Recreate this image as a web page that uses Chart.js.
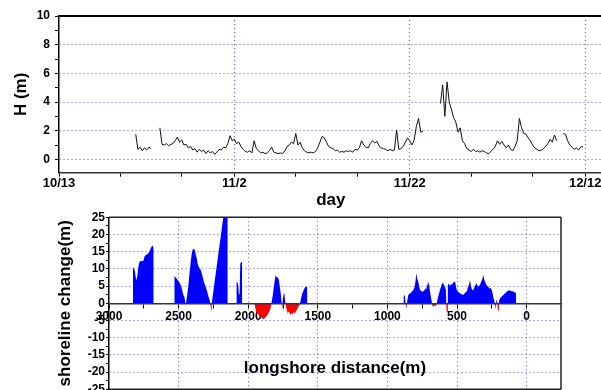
<!DOCTYPE html>
<html><head><meta charset="utf-8">
<script src="https://cdn.jsdelivr.net/npm/chart.js@4.4.1/dist/chart.umd.min.js"></script>
<style>
html,body{margin:0;padding:0;overflow:hidden;background:#fff;width:601px;height:390px;}
#top{position:absolute;left:0;top:0;}
#bot{position:absolute;left:0;top:200px;}
</style></head><body>
<canvas id="top" width="640" height="215"></canvas>
<canvas id="bot" width="601" height="206"></canvas>
<script>
// ---------- Wave height record (top panel), day 0 = 10/13 ----------
const waveDaysA = [8.75, 9, 9.25, 9.5, 9.75, 10, 10.25, 10.5];
const waveHA    = [1.75, 0.7, 0.85, 0.6, 0.8, 0.65, 0.85, 0.75];
const waveDaysB = [
  11.5, 11.75, 12, 12.25, 12.5, 12.75, 13, 13.25,
  13.5, 13.75, 14, 14.25, 14.5, 14.75, 15, 15.25,
  15.5, 15.75, 16, 16.25, 16.5, 16.75, 17, 17.25,
  17.5, 17.75, 18, 18.25, 18.5, 18.75, 19, 19.25,
  19.5, 19.75, 20, 20.25, 20.5, 20.75, 21, 21.25,
  21.5, 21.75, 22, 22.25, 22.5, 22.75, 23, 23.25,
  23.5, 23.75, 24, 24.25, 24.5, 24.75, 25, 25.25,
  25.5, 25.75, 26, 26.25, 26.5, 26.75, 27, 27.25,
  27.5, 27.75, 28, 28.25, 28.5, 28.75, 29, 29.25,
  29.5, 29.75, 30, 30.25, 30.5, 30.75, 31, 31.25,
  31.5, 31.75, 32, 32.25, 32.5, 32.75, 33, 33.25,
  33.5, 33.75, 34, 34.25, 34.5, 34.75, 35, 35.25,
  35.5, 35.75, 36, 36.25, 36.5, 36.75, 37, 37.25,
  37.5, 37.75, 38, 38.25, 38.5, 38.75, 39, 39.25,
  39.5, 39.75, 40, 40.25, 40.5, 40.75, 41, 41.25,
  41.5];
const waveHB = [
  2.2, 1.05, 1.0, 1.1, 0.95, 1.05, 1.1, 1.3,
  1.55, 1.2, 1.35, 1.0, 1.05, 0.8, 0.9, 0.65,
  0.75, 0.5, 0.7, 0.55, 0.65, 0.4, 0.6, 0.45,
  0.55, 0.35, 0.5, 0.7, 0.65, 0.85, 0.8, 1.1,
  1.65, 1.3, 1.4, 1.1, 1.2, 0.9, 0.7, 0.55,
  0.5, 0.6, 0.45, 1.3, 0.75, 0.6, 0.45, 0.5,
  0.4, 0.45, 0.6, 0.85, 0.5, 0.45, 0.4, 0.45,
  0.4, 0.6, 0.9, 1.0, 1.2, 1.1, 1.8, 1.0,
  1.2, 0.8, 0.6, 0.5, 0.45, 0.5, 0.45, 0.55,
  0.8, 1.2, 1.6, 1.5, 1.2, 0.9, 0.8, 0.75,
  0.6, 0.65, 0.5, 0.55, 0.5, 0.6, 0.55, 0.6,
  0.5, 0.7, 0.65, 0.8, 1.3, 1.0, 0.85, 0.8,
  1.1, 1.3, 1.15, 1.25, 0.95, 0.8, 0.75, 0.7,
  0.6, 0.7, 0.6, 0.65, 2.05, 0.7, 0.75, 0.9,
  1.2, 1.5, 1.3, 1.0, 1.35, 2.3, 2.85, 1.9,
  1.95];
const waveDaysC = [
  43.5, 43.75, 44, 44.25, 44.5, 44.75, 45, 45.25,
  45.5, 45.75, 46, 46.25, 46.5, 46.75, 47, 47.25,
  47.5, 47.75, 48, 48.25, 48.5, 48.75, 49, 49.25,
  49.5, 49.75, 50, 50.25, 50.5, 50.75, 51, 51.25,
  51.5, 51.75, 52, 52.25, 52.5, 52.75, 53, 53.25,
  53.5, 53.75, 54, 54.25, 54.5, 54.75, 55, 55.25,
  55.5, 55.75, 56, 56.25, 56.5, 56.75];
const waveHC = [
  3.9, 5.2, 3.0, 5.4, 4.0, 3.5, 2.9, 2.6,
  1.9, 2.2, 1.3, 1.1, 0.75, 0.65, 0.55, 0.7,
  0.55, 0.6, 0.5, 0.6, 0.55, 0.45, 0.4, 0.55,
  0.7, 0.9, 1.3, 1.05, 1.25, 1.0, 0.8, 1.0,
  0.7, 0.6, 0.9, 1.3, 2.85, 2.2, 1.8, 1.75,
  1.5, 1.3, 1.0, 0.8, 0.7, 0.6, 0.65, 0.75,
  0.9, 1.1, 1.4, 1.2, 1.7, 1.3];
const waveDaysD = [57.5, 57.75, 58, 58.25, 58.5, 58.75, 59, 59.25, 59.5, 59.75];
const waveHD    = [1.8, 1.75, 1.3, 1.0, 0.85, 0.7, 0.8, 0.65, 0.85, 0.9];

const dayTickValues = [0, 7, 14, 20, 27, 34, 40, 47, 54, 60];
const dayMajorValues = [0, 20, 40, 60];
const dayMajorLabels = ['10/13', '11/2', '11/22', '12/12'];
const hTickValues = [0, 1, 2, 3, 4, 5, 6, 7, 8, 9, 10];
const hMajorValues = [0, 2, 4, 6, 8, 10];

// ---------- Shoreline change (bottom panel) ----------
const shoreDistA = [2828, 2822, 2815, 2808, 2801, 2795, 2789, 2783, 2777, 2769, 2761, 2753, 2745, 2737, 2729, 2721, 2713, 2705, 2697, 2690, 2684, 2679];
const shoreChgA  = [10.6, 10.2, 9.5, 7.5, 6.8, 8.5, 10.5, 11.8, 12.3, 12.2, 12.3, 12.4, 13.6, 14.0, 14.2, 14.4, 14.8, 15.6, 16.2, 16.8, 16.5, 16.2];
const shoreDistB = [2531, 2522, 2514, 2502, 2490, 2478, 2470, 2466, 2459, 2454, 2450, 2446, 2438, 2430, 2422, 2413, 2406, 2399, 2390, 2382, 2376, 2370, 2363, 2356, 2346, 2340, 2334, 2326, 2318, 2308, 2298, 2290, 2282, 2274, 2270, 2267, 2262, 2258, 2248, 2239, 2227, 2215, 2206, 2198, 2190, 2184, 2178, 2172, 2165, 2155, 2147];
const shoreChgB  = [7.9, 7.6, 7.2, 6.5, 5.8, 4.4, 3.2, 2.4, 2.0, 0.8, -0.6, 0.3, 2.5, 5, 8.5, 12, 14.5, 15.6, 15.8, 15.4, 14, 13.2, 11.5, 10.6, 10, 9.6, 8.7, 7.5, 6.3, 5, 3.9, 2.7, 1.5, 0.5, -1, -2, -0.5, 1.2, 4.2, 7.0, 10.5, 14.2, 16.8, 19.3, 21.7, 23.5, 25.3, 27, 27, 27, 27];
const shoreDistC = [2085, 2078, 2072, 2067, 2062, 2057, 2050, 2043];
const shoreChgC  = [6.2, 6.1, 5.2, 2.7, 2.5, 11.5, 12.1, 11.8];
const shoreDistD = [1955, 1950, 1942, 1932, 1922, 1912, 1902, 1894, 1886, 1878, 1870, 1862, 1854, 1846, 1838, 1832, 1825, 1818, 1810, 1803, 1797, 1791, 1785, 1779, 1772, 1766, 1761, 1757, 1753, 1747, 1741, 1736, 1731, 1724, 1716, 1709, 1702, 1695, 1688, 1680, 1672, 1664, 1656, 1648, 1640, 1632, 1626, 1620, 1612, 1604, 1596, 1588, 1582, 1575];
const shoreChgD  = [-0.5, -1.2, -2.5, -3.0, -3.6, -3.8, -4.3, -4.6, -4.5, -4.2, -3.8, -3.4, -2.8, -2.2, -1.2, 0.3, 2, 4, 6.5, 8.3, 7.6, 7.6, 7.4, 6.6, 4.5, 2.8, 0.5, -1.3, 0.5, 2.4, 3.0, 1.2, -0.5, -1.8, -3.0, -2.4, -2.8, -3.5, -2.8, -3.2, -2.5, -3.0, -2.2, -1.8, -1.0, -0.5, 0.3, 1.5, 2.8, 3.6, 4.3, 4.9, 4.7, 4.8];
const shoreDistE = [885, 876, 868, 862, 858, 850, 842, 832, 822, 814, 806, 798, 792, 786, 778, 772, 766, 758, 750, 742, 736, 730, 722, 714, 706, 700, 694, 688, 682, 676, 668, 660, 652, 646, 640, 632, 622, 614, 606, 599, 592, 586, 580, 576, 573, 570, 566, 560, 552, 545, 538, 530, 522, 514, 508, 502, 495, 488, 478, 470, 462, 455, 447, 439, 430, 422, 414, 407, 400, 392, 383, 375, 367, 359, 351, 343, 335, 327, 319, 311, 305, 299, 292, 283, 275, 267, 259, 251, 244, 238, 232, 226, 222, 218, 213, 208, 204, 199, 191, 183, 175, 167, 159, 151, 143, 135, 127, 119, 111, 103, 95, 86, 80, 76];
const shoreChgE  = [2.0, 2.4, -0.5, -1.5, 0.5, 2.4, 2.8, 3.0, 3.5, 3.9, 4.5, 6.5, 8.7, 7.2, 6.3, 5.0, 3.9, 3.6, 3.4, 3.4, 3.8, 4.4, 4.0, 5.2, 6.3, 5.0, 3.4, 2.0, 0.5, -0.8, -1.0, -0.6, -0.8, -0.3, 1.2, 2.5, 3.9, 5.0, 5.8, 5.8, 5.2, 4.6, 4.0, -1.5, -3.0, -2.5, 5.0, 5.8, 5.0, 5.6, 5.3, 5.8, 6.3, 6.3, 5.0, 3.9, 3.5, 3.2, 2.9, 2.6, 2.6, 2.4, 2.8, 3.2, 3.4, 4.5, 5.5, 6.8, 5.0, 3.9, 3.9, 4.6, 5.4, 5.8, 4.8, 5.0, 5.3, 6.2, 7.0, 8.2, 7.0, 6.3, 5.6, 5.0, 4.8, 4.2, 4.5, 3.9, 2.8, 1.5, 0.8, -0.8, -1.9, 0.8, 1.2, -1.5, -2.2, 0.5, 1.5, 1.8, 2.1, 2.4, 2.8, 3.0, 3.4, 3.6, 3.8, 3.7, 3.6, 3.5, 3.4, 3.2, 3.0, 2.8];

const distTickValues = [3000, 2750, 2500, 2250, 2000, 1750, 1500, 1250, 1000, 750, 500, 250, 0];
const distMajorValues = [3000, 2500, 2000, 1500, 1000, 500, 0];
const chgTickValues = [-25, -22.5, -20, -17.5, -15, -12.5, -10, -7.5, -5, -2.5, 0, 2.5, 5, 7.5, 10, 12.5, 15, 17.5, 20, 22.5, 25];
const chgMajorValues = [-25, -20, -15, -10, -5, 0, 5, 10, 15, 20, 25];

// join record segments, leaving a gap (null) between them
function joinSegments(xsList, ysList) {
  const pts = [];
  xsList.forEach((xs, i) => {
    if (i > 0) {
      const prev = xsList[i - 1];
      pts.push({x: (prev[prev.length - 1] + xs[0]) / 2, y: null});
    }
    xs.forEach((x, j) => pts.push({x: x, y: ysList[i][j]}));
  });
  return pts;
}

Chart.defaults.font.family = "'Liberation Sans', Arial, sans-serif";
Chart.defaults.color = '#000';
const gridBlue = 'rgba(70,70,255,0.95)';
const boldTick = (size) => ({size: size, weight: 'bold', lineHeight: 1});
const titleFont = {size: 17, weight: 'bold', lineHeight: 1.2};

function framePlugin(sides, color, width) {
  return {
    id: 'frame',
    afterDatasetsDraw(chart) {
      const {ctx, chartArea: a} = chart;
      ctx.save();
      ctx.strokeStyle = color;
      ctx.lineWidth = width;
      ctx.beginPath();
      if (sides.includes('top')) { ctx.moveTo(a.left, a.top); ctx.lineTo(a.right, a.top); }
      if (sides.includes('right')) { ctx.moveTo(a.right, a.top); ctx.lineTo(a.right, a.bottom); }
      if (sides.includes('bottom')) { ctx.moveTo(a.left, a.bottom); ctx.lineTo(a.right, a.bottom); }
      ctx.stroke();
      ctx.restore();
    }
  };
}

// ---------- top chart ----------
new Chart(document.getElementById('top'), {
  type: 'line',
  data: {
    datasets: [{
      data: joinSegments([waveDaysA, waveDaysB, waveDaysC, waveDaysD], [waveHA, waveHB, waveHC, waveHD]),
      borderColor: '#111', borderWidth: 1, pointRadius: 0, tension: 0, fill: false, spanGaps: false
    }]
  },
  options: {
    responsive: false, animation: false, devicePixelRatio: 1,
    plugins: {legend: {display: false}, tooltip: {enabled: false}},
    layout: {padding: {left: 0, top: 16, right: 37.3, bottom: 0}},
    scales: {
      x: {
        type: 'linear', min: 0, max: 62,
        afterBuildTicks: s => { s.ticks = dayTickValues.map(v => ({value: v})); },
        afterFit: s => { s.height = 42.3; },
        ticks: {
          autoSkip: false, maxRotation: 0, padding: 0, font: boldTick(13),
          callback: v => { const i = dayMajorValues.indexOf(v); return i >= 0 ? dayMajorLabels[i] : ''; }
        },
        grid: {
          color: c => (c.tick && dayMajorValues.includes(c.tick.value) && c.tick.value > 0) ? gridBlue : 'rgba(0,0,0,0)',
          tickColor: '#000', tickLength: 4, lineWidth: 1
        },
        border: {color: '#333', width: 1.5, dash: [1, 3]},
        title: {display: true, text: 'day', font: titleFont, padding: {top: 0, bottom: 4.8}}
      },
      y: {
        min: -0.93, max: 10,
        afterBuildTicks: s => { s.ticks = hTickValues.map(v => ({value: v})); },
        afterFit: s => { s.width = 59; },
        ticks: {autoSkip: false, padding: 5, font: boldTick(12), callback: v => hMajorValues.includes(v) ? String(v) : ''},
        grid: {
          color: c => (c.tick && hMajorValues.includes(c.tick.value) && c.tick.value < 10) ? gridBlue : 'rgba(0,0,0,0)',
          tickColor: '#000', tickLength: 4, lineWidth: 1
        },
        border: {color: '#000', width: 1.5, dash: [1, 3]},
        title: {display: true, text: 'H (m)', font: titleFont, padding: {top: 11, bottom: 0}}
      }
    }
  },
  plugins: [framePlugin(['top'], '#000', 2)]
});

// ---------- bottom chart ----------
new Chart(document.getElementById('bot'), {
  type: 'line',
  data: {
    datasets: [{
      data: joinSegments([shoreDistA, shoreDistB, shoreDistC, shoreDistD, shoreDistE],
                         [shoreChgA, shoreChgB, shoreChgC, shoreChgD, shoreChgE]),
      borderWidth: 0, borderColor: 'rgba(0,0,0,0)', pointRadius: 0, tension: 0, spanGaps: false,
      fill: {target: 'origin', above: '#0000ff', below: '#ff0000'}
    }]
  },
  options: {
    responsive: false, animation: false, devicePixelRatio: 1,
    plugins: {legend: {display: false}, tooltip: {enabled: false}},
    layout: {padding: {left: 0, top: 17.3, right: 40, bottom: 16.7}},
    scales: {
      y: {
        min: -25, max: 25,
        afterBuildTicks: s => { s.ticks = chgTickValues.map(v => ({value: v})); },
        afterFit: s => { s.width = 109; },
        ticks: {autoSkip: false, padding: 1, font: boldTick(12), callback: v => chgMajorValues.includes(v) ? String(v) : ''},
        grid: {
          color: c => (c.tick && chgMajorValues.includes(c.tick.value) && Math.abs(c.tick.value) < 25 && c.tick.value !== 0) ? gridBlue : 'rgba(0,0,0,0)',
          tickColor: '#000', tickLength: 3, lineWidth: 1
        },
        border: {color: '#000', width: 1.5, dash: [1, 3]},
        title: {display: true, text: 'shoreline change(m)', font: titleFont, padding: {top: 55, bottom: 0}}
      },
      x: {
        type: 'linear', min: -247, max: 3000, reverse: true, position: {y: 0},
        afterBuildTicks: s => { s.ticks = distTickValues.map(v => ({value: v})); },
        afterFit: s => { s.height = 75.4; },
        ticks: {autoSkip: false, maxRotation: 0, padding: 3, font: boldTick(12), callback: v => distMajorValues.includes(v) ? String(v) : ''},
        grid: {
          color: c => (c.tick && distMajorValues.includes(c.tick.value) && c.tick.value !== 3000) ? gridBlue : 'rgba(0,0,0,0)',
          tickColor: '#000', tickLength: 4, lineWidth: 1
        },
        border: {color: '#333', width: 1.5, dash: [1, 3], z: 1},
        title: {display: true, text: 'longshore distance(m)', font: titleFont, padding: {top: 0, bottom: 0}}
      }
    }
  },
  plugins: [framePlugin(['top', 'right', 'bottom'], '#222', 1.5)]
});
</script>
</body></html>
